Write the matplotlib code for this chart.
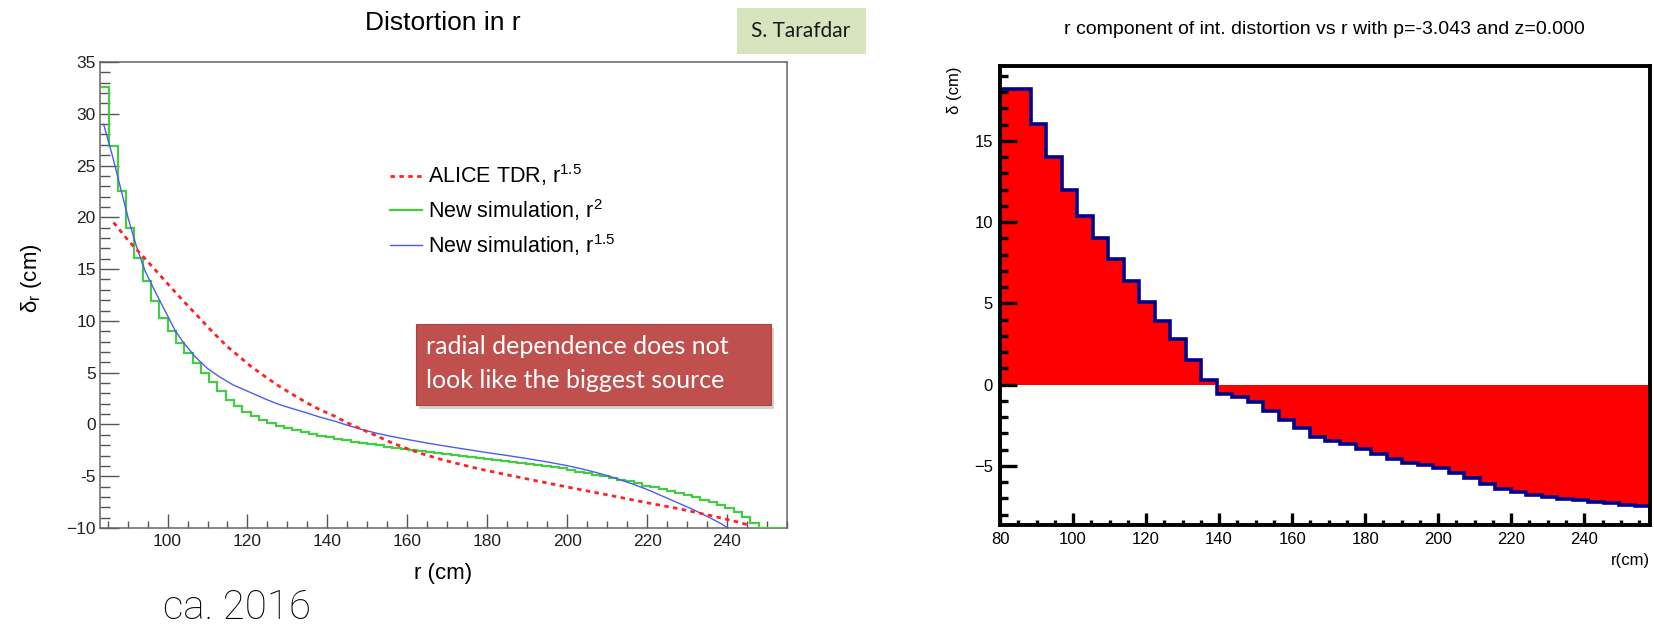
import numpy as np
import matplotlib
matplotlib.use('Agg')
import matplotlib.pyplot as plt
from matplotlib.patches import Rectangle
from matplotlib.ticker import MultipleLocator

plt.rcParams['font.family'] = ['Liberation Sans', 'DejaVu Sans']
plt.rcParams['mathtext.fontset'] = 'custom'
plt.rcParams['mathtext.rm'] = 'Liberation Sans'
plt.rcParams['mathtext.it'] = 'Liberation Sans:italic'

# ---- left panel data ----
green_r0 = 83.33      # first bin edge
green_w = 2.0833      # bin width
green_vals = [32.6, 26.9, 22.5, 19.0, 16.1, 13.9, 11.9, 10.3, 9.0, 7.9,
              6.9, 5.9, 5.0, 4.1, 3.2, 2.4, 1.75, 1.2, 0.8, 0.45,
              0.12, -0.15, -0.36, -0.55, -0.75, -0.92, -1.08, -1.23, -1.38, -1.53,
              -1.67, -1.8, -1.92, -2.03, -2.14, -2.25, -2.36, -2.47, -2.58, -2.69,
              -2.79, -2.89, -2.99, -3.08, -3.17, -3.26, -3.35, -3.44, -3.53, -3.62,
              -3.71, -3.81, -3.91, -4.01, -4.12, -4.25, -4.4, -4.55, -4.7, -4.85,
              -5.0, -5.15, -5.32, -5.5, -5.7, -5.9, -6.05, -6.2, -6.45, -6.65,
              -6.85, -7.05, -7.25, -7.5, -7.75, -8.05, -8.45, -8.9, -9.5, -10.3,
              -11.0, -11.5]

blue_r = [84.0, 86.1, 88.2, 90.3, 92.3, 94.4, 97.2, 100.0, 102.0, 104.2, 107.0,
          110.0, 113.0, 116.5, 120.9, 124.5, 127.9, 131.5, 134.8, 138.0, 141.8,
          145.0, 148.7, 152.0, 155.7, 160.0, 165.0, 170.0, 175.0, 180.0, 185.0,
          190.0, 195.0, 200.0, 204.0, 208.0, 212.0, 216.0, 220.0, 223.1, 227.0,
          231.4, 234.0, 236.4, 238.5, 240.2]
blue_v = [29.0, 26.1, 22.9, 19.7, 17.1, 14.8, 12.6, 10.5, 9.0, 7.8, 6.5,
          5.4, 4.6, 3.8, 3.06, 2.45, 1.93, 1.5, 1.12, 0.72, 0.32,
          -0.08, -0.49, -0.82, -1.13, -1.45, -1.8, -2.12, -2.42, -2.72, -3.0,
          -3.3, -3.62, -3.98, -4.32, -4.72, -5.18, -5.7, -6.28, -6.8, -7.45,
          -8.2, -8.68, -9.15, -9.58, -10.0]

red_r = [86.5, 90.3, 94.4, 98.6, 102.8, 107.7, 111.1, 115.0, 120.9, 124.5, 127.9,
         131.5, 134.8, 138.0, 141.8, 145.0, 148.7, 152.0, 155.7, 160.0, 164.1,
         169.6, 178.0, 186.4, 194.7, 203.1, 211.4, 219.8, 228.1, 236.5, 243.5, 245.5]
red_v = [19.5, 17.7, 16.0, 14.2, 12.4, 10.4, 9.0, 7.5, 5.6, 4.6, 3.7,
         2.85, 2.1, 1.45, 0.8, 0.15, -0.49, -1.05, -1.7, -2.35, -2.88,
         -3.5, -4.3, -4.98, -5.63, -6.28, -6.9, -7.55, -8.15, -8.85, -9.5, -9.75]

legend_labels = [r'ALICE TDR, r$^{\mathrm{1.5}}$', r'New simulation, r$^{\mathrm{2}}$',
                 r'New simulation, r$^{\mathrm{1.5}}$']

# ---- right panel data ----
hist_r0, hist_r1 = 80, 258
hist_vals = [18.2, 18.2, 16.05, 14.0, 12.0, 10.35, 9.0, 7.7, 6.35, 5.1,
             3.9, 2.8, 1.5, 0.3, -0.55, -0.77, -1.08, -1.6, -2.17, -2.68,
             -3.2, -3.46, -3.67, -3.95, -4.24, -4.57, -4.84, -4.94, -5.14, -5.43,
             -5.74, -6.08, -6.42, -6.63, -6.76, -6.89, -7.01, -7.09, -7.2, -7.3,
             -7.4, -7.46]

W, H = 1654, 624
fig = plt.figure(figsize=(W / 100, H / 100), dpi=100)


def fx(x):
    return x / W


def fy(y):
    return 1 - y / H


# ================= left panel =================
ax = fig.add_axes([fx(100), fy(528), (787 - 100) / W, (528 - 62) / H])
g_edges = green_r0 + green_w * np.arange(len(green_vals) + 1)
ax.stairs(np.clip(green_vals, -10, None), g_edges, baseline=None,
          color='#44cc44', lw=1.6, label=legend_labels[1], zorder=3)
ax.plot(blue_r, blue_v, color='#4d5cf0', lw=1.0, label=legend_labels[2], zorder=4)
ax.plot(red_r, red_v, color='#ff2222', lw=2.0, ls=(0, (1.6, 1.6)),
        label=legend_labels[0], zorder=5)
ax.set_xlim(83.1, 255)
ax.set_ylim(-10, 35)
ax.xaxis.set_major_locator(MultipleLocator(20))
ax.xaxis.set_minor_locator(MultipleLocator(5))
ax.yaxis.set_major_locator(MultipleLocator(5))
ax.yaxis.set_minor_locator(MultipleLocator(1))
ax.tick_params(which='both', direction='in', colors='#555555', labelcolor='#222222',
               labelsize=12.5, width=1.0)
ax.tick_params(axis='y', which='major', length=14, pad=3)
ax.tick_params(axis='y', which='minor', length=7.5)
ax.tick_params(axis='x', which='major', length=10, pad=4)
ax.tick_params(axis='x', which='minor', length=5)
ax.set_xticks([100, 120, 140, 160, 180, 200, 220, 240])
ax.set_yticks([-10, -5, 0, 5, 10, 15, 20, 25, 30, 35])
ax.set_yticklabels(['\u221210', '-5', '0', '5', '10', '15', '20', '25', '30', '35'])
for s in ax.spines.values():
    s.set_color('#666666')
    s.set_linewidth(1.1)

h, l = ax.get_legend_handles_labels()
order = [2, 0, 1]
ax.legend([h[i] for i in order], [l[i] for i in order], loc='upper left',
          bbox_to_anchor=(0.422, 0.785), frameon=False, fontsize=15.5,
          handlelength=1.5, handletextpad=0.25, labelspacing=0.42,
          borderpad=0, borderaxespad=0)

fig.text(fx(443), fy(23), 'Distortion in r', ha='center', va='center', fontsize=19)
fig.text(fx(32), fy(278), r'$\mathrm{\delta_r}$ (cm)', ha='center', va='center',
         rotation=90, fontsize=16)
fig.text(fx(443), fy(573), 'r (cm)', ha='center', va='center', fontsize=16)
fig.text(fx(163), fy(608), 'ca. 2016', ha='left', va='center', fontsize=29,
         family=['Roboto', 'DejaVu Sans'], fontweight='light')

# name tag
fig.patches.append(Rectangle((fx(737), fy(54)), (866 - 737) / W, 46 / H,
                             transform=fig.transFigure, facecolor='#d7e4bd',
                             edgecolor='none'))
fig.text(fx(801), fy(31), 'S. Tarafdar', ha='center', va='center', fontsize=15,
         family=['Lato', 'DejaVu Sans'], color='#1a1a1a')

# red comment box with a soft shadow
fig.patches.append(Rectangle((fx(419), fy(409)), (771 - 416) / W, 81 / H,
                             transform=fig.transFigure, facecolor='#b8b8b8',
                             edgecolor='none', alpha=0.6))
fig.patches.append(Rectangle((fx(416), fy(405)), (771 - 416) / W, 81 / H,
                             transform=fig.transFigure, facecolor='#c0504d',
                             edgecolor='#a94442', lw=0.8))
fig.text(fx(426), fy(347), 'radial dependence does not', ha='left', va='center',
         fontsize=18, color='white', family=['Lato', 'DejaVu Sans'])
fig.text(fx(426), fy(381), 'look like the biggest source', ha='left', va='center',
         fontsize=18, color='white', family=['Lato', 'DejaVu Sans'])

# ================= right panel =================
ax2 = fig.add_axes([fx(1000), fy(525), (1650 - 1000) / W, (525 - 66) / H])
h_edges = np.linspace(hist_r0, hist_r1, len(hist_vals) + 1)
ax2.stairs(hist_vals, h_edges, baseline=0, fill=True, color='#ff0000', lw=0)
ax2.stairs(hist_vals, h_edges, baseline=None, color='#000090', lw=2.6)
ax2.set_xlim(80, 258)
ax2.set_ylim(-8.63, 19.6)
ax2.xaxis.set_major_locator(MultipleLocator(20))
ax2.xaxis.set_minor_locator(MultipleLocator(5))
ax2.yaxis.set_major_locator(MultipleLocator(5))
ax2.yaxis.set_minor_locator(MultipleLocator(1))
ax2.set_yticks([-5, 0, 5, 10, 15])
ax2.set_yticklabels(['\u22125', '0', '5', '10', '15'])
ax2.set_xticks([80, 100, 120, 140, 160, 180, 200, 220, 240])
ax2.tick_params(which='both', direction='in', width=2.4, labelsize=12, color='black')
ax2.tick_params(axis='y', which='major', length=12.5, pad=5)
ax2.tick_params(axis='y', which='minor', length=5.8)
ax2.tick_params(axis='x', which='major', length=8.6, pad=5)
ax2.tick_params(axis='x', which='minor', length=3.6)
for s in ax2.spines.values():
    s.set_linewidth(2.8)

fig.text(fx(1324), fy(29), 'r component of int. distortion vs r with p=-3.043 and z=0.000',
         ha='center', va='center', fontsize=14)
fig.text(fx(955), fy(66), '\u03b4 (cm)', ha='center', va='top', rotation=90, fontsize=12)
fig.text(fx(1650), fy(560), 'r(cm)', ha='right', va='center', fontsize=12)

fig.savefig('out.png', dpi=100)
